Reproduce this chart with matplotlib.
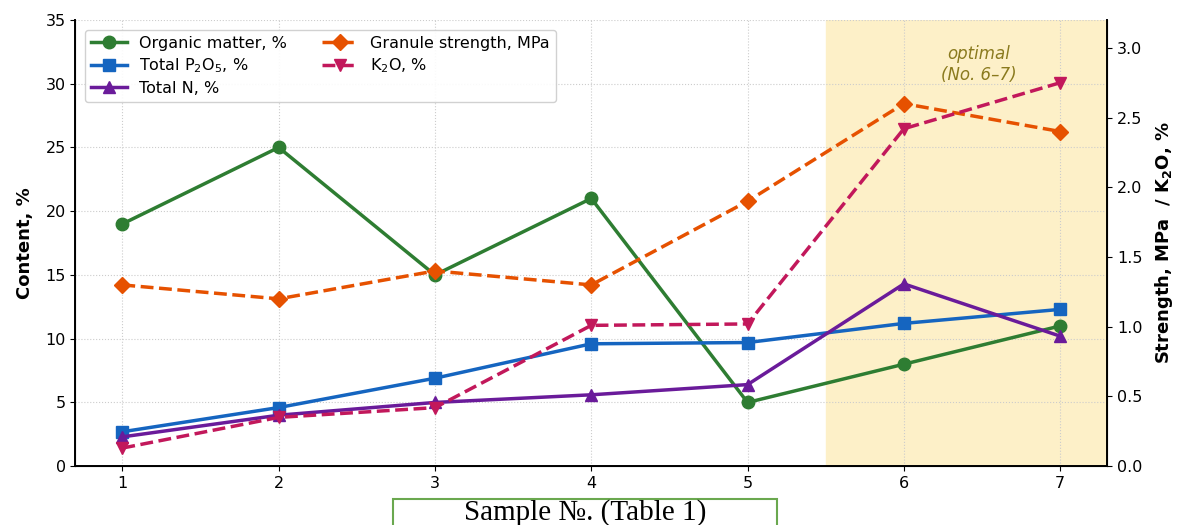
import matplotlib.pyplot as plt
from matplotlib.patches import Rectangle
import numpy as np

# data
samples = [1, 2, 3, 4, 5, 6, 7]
organic = [19, 25, 15, 21, 5, 8, 11]
p2o5 = [2.7, 4.6, 6.9, 9.6, 9.7, 11.2, 12.3]
total_n = [2.3, 4.0, 5.0, 5.6, 6.4, 14.3, 10.2]
strength = [1.30, 1.20, 1.40, 1.30, 1.90, 2.60, 2.40]
k2o = [0.13, 0.35, 0.42, 1.01, 1.02, 2.42, 2.75]

fig = plt.figure(figsize=(11.79, 5.25), dpi=100)
ax = fig.add_axes([0.064, 0.112, 0.875, 0.85])
ax2 = ax.twinx()

ax.axvspan(5.5, 7.3, color='#fdf0c8', zorder=0)

lw = 2.5
ms = 9
l1, = ax.plot(samples, organic, '-o', color='#2e7d32', lw=lw, ms=ms, label='Organic matter, %')
l2, = ax.plot(samples, p2o5, '-s', color='#1565c0', lw=lw, ms=ms, label='Total P$_2$O$_5$, %')
l3, = ax.plot(samples, total_n, '-^', color='#6a1b9a', lw=lw, ms=ms, label='Total N, %')
l4, = ax2.plot(samples, strength, '--D', color='#e65100', lw=lw, ms=8, label='Granule strength, MPa')
l5, = ax2.plot(samples, k2o, '--v', color='#c2185b', lw=lw, ms=ms, label='K$_2$O, %')

ax.set_xlim(0.7, 7.3)
ax.set_ylim(0, 35)
ax2.set_ylim(0, 3.2)
ax.set_xticks(samples)
ax.set_yticks(np.arange(0, 36, 5))
ax2.set_yticks(np.arange(0, 3.01, 0.5))
ax.tick_params(labelsize=11.5)
ax2.tick_params(labelsize=11.5)

ax.grid(True, linestyle=':', color='#cccccc', lw=0.8)
ax.set_axisbelow(True)
ax.spines['top'].set_visible(False)
ax2.spines['top'].set_visible(False)
for s in ['left', 'bottom']:
    ax.spines[s].set_linewidth(1.4)
ax2.spines['right'].set_linewidth(1.4)

ax.set_ylabel('Content, %', fontsize=13, fontweight='bold', labelpad=8)
ax2.set_ylabel('Strength, MPa  / K$_\\mathbf{2}$O, %', fontsize=13, fontweight='bold', labelpad=8)

# boxed x label, cut at the bottom edge as in the reference
fig.patches.append(Rectangle((393 / 1179, -0.02), 384 / 1179, 0.02 + 26 / 525,
                             transform=fig.transFigure, fc='white', ec='#6aa84f', lw=1.5))
fig.text(585 / 1179, -1 / 525, 'Sample №. (Table 1)', ha='center', va='bottom',
         fontsize=21, family='Liberation Serif')

ax2.text(6.48, 2.88, 'optimal\n(No. 6–7)', ha='center', va='center', fontsize=12,
         style='italic', color='#8a7a1e')

ax.legend(handles=[l1, l2, l3, l4, l5], ncol=2, loc='upper left', fontsize=11.5,
          framealpha=0.9, borderaxespad=0.6, handlelength=2.2, columnspacing=2.2,
          labelspacing=0.35)

fig.savefig('out.png', dpi=100)
